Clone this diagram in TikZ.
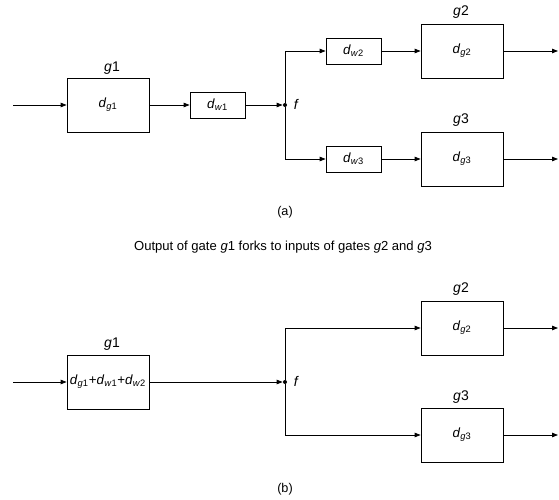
\documentclass[tikz,border=0pt]{standalone}
\usepackage{fontspec}
\setmainfont{Liberation Sans}
\usepackage{tikz}
\usetikzlibrary{arrows.meta,calc}
\newcommand{\dly}[2]{\textit{d}\textsubscript{\textit{#1}#2}}
\newcommand{\gt}[1]{\textit{g}#1}

\begin{document}
\begin{tikzpicture}[x=0.75pt,y=-0.75pt,line width=0.6pt,
  >={Triangle[length=4.5pt,width=3.4pt]},
  gate/.style={draw,minimum width=61.5pt,minimum height=40.5pt,inner sep=0pt,font=\fontsize{10}{12}\selectfont},
  wire/.style={draw,minimum width=41.25pt,minimum height=19.5pt,inner sep=0pt,font=\fontsize{10}{12}\selectfont},
  lbl/.style={font=\fontsize{10.5}{12}\selectfont},
  dot/.style={circle,fill,inner sep=0pt,minimum size=3pt}]
  \useasboundingbox (0,0) rectangle (559,499);
  % (a) with wire delays
  \coordinate (ina) at (13,105);
  \node[gate] (g1a) at (108,105) {\dly{g}{1}};
  \node[lbl] (l1a) at (112,68) {\gt{1}};
  \node[wire] (dw1) at (217.5,105) {\dly{w}{1}};
  \node[dot] (fa) at (285,105) {};
  \node[lbl,right] (lfa) at (289,104) {\textit{f}};
  \node[wire] (dw2) at (353.5,51) {\dly{w}{2}};
  \node[wire] (dw3) at (353.5,159) {\dly{w}{3}};
  \node[gate] (g2a) at (462,51) {\dly{g}{2}};
  \node[lbl] (l2a) at (461,12) {\gt{2}};
  \node[gate] (g3a) at (462,159) {\dly{g}{3}};
  \node[lbl] (l3a) at (461,120) {\gt{3}};
  \coordinate (o2a) at (558,51);
  \coordinate (o3a) at (558,159);
  \draw[->] (ina) -- (g1a);
  \draw[->] (g1a) -- (dw1);
  \draw[->] (dw1) -- (fa);
  \draw[->] (fa) |- (dw2);
  \draw[->] (fa) |- (dw3);
  \draw[->] (dw2) -- (g2a);
  \draw[->] (dw3) -- (g3a);
  \draw[->] (g2a) -- (o2a);
  \draw[->] (g3a) -- (o3a);
  \node[font=\fontsize{9.5}{11}\selectfont] (capa) at (285,212) {(a)};
  \node[font=\fontsize{9.8}{11}\selectfont] (cap) at (283,247) {Output of gate \gt{1} forks to inputs of gates \gt{2} and \gt{3}};
  % (b) lumped delay
  \coordinate (inb) at (13,382);
  \node[gate] (g1b) at (108,382) {\dly{g}{1}+\dly{w}{1}+\dly{w}{2}};
  \node[lbl] (l1b) at (112,344) {\gt{1}};
  \node[dot] (fb) at (285,382) {};
  \node[lbl,right] (lfb) at (289,381) {\textit{f}};
  \node[gate] (g2b) at (462,328) {\dly{g}{2}};
  \node[lbl] (l2b) at (461,289) {\gt{2}};
  \node[gate] (g3b) at (462,435) {\dly{g}{3}};
  \node[lbl] (l3b) at (461,397) {\gt{3}};
  \coordinate (o2b) at (558,328);
  \coordinate (o3b) at (558,435);
  \draw[->] (inb) -- (g1b);
  \draw[->] (g1b) -- (fb);
  \draw[->] (fb) |- (g2b);
  \draw[->] (fb) |- (g3b);
  \draw[->] (g2b) -- (o2b);
  \draw[->] (g3b) -- (o3b);
  \node[font=\fontsize{9.5}{11}\selectfont] (capb) at (285,489) {(b)};
\end{tikzpicture}
\end{document}
